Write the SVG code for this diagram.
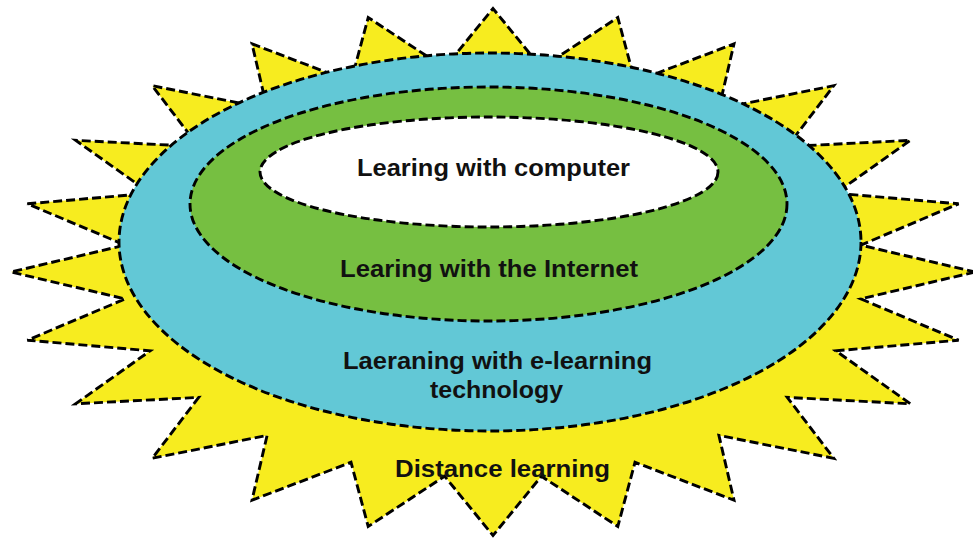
<svg xmlns="http://www.w3.org/2000/svg" width="973" height="538" viewBox="0 0 973 538">
<style>
.shape{stroke:#000;stroke-width:2.9;stroke-dasharray:9 4;stroke-linejoin:miter}
.lbl{font-family:"Liberation Sans",Arial,sans-serif;font-weight:bold;font-size:23px;fill:#111;text-anchor:middle}
</style>
<rect width="973" height="538" fill="#fff"/>
<g id="distance-learning">
<polygon class="shape" fill="#f7ec1f" points="975,272 860.8,298.9 958.6,340.2 835.8,350.8 910.4,403.8 787.3,397.4 833.8,458.3 718.9,435.4 734,500.2 635,462.3 617.8,526.5 541.4,476.2 493,535.5 444.6,476.2 368.2,526.5 351,462.3 252,500.2 267.1,435.4 152.2,458.3 198.7,397.4 75.6,403.8 150.2,350.8 27.4,340.2 125.2,298.9 11,272 125.2,245.1 27.4,203.8 150.2,193.2 75.6,140.3 198.7,146.6 152.2,85.7 267.1,108.6 252,43.8 351,81.7 368.2,17.5 444.6,67.8 493,8.5 541.4,67.8 617.8,17.5 635,81.7 734,43.8 718.9,108.6 833.8,85.7 787.3,146.6 910.4,140.3 835.8,193.2 958.6,203.8 860.8,245.1"/>
</g>
<g id="elearning-technology">
<ellipse class="shape" fill="#62c8d6" cx="490" cy="242" rx="371" ry="189"/>
</g>
<g id="internet">
<ellipse class="shape" fill="#76bf41" cx="488.5" cy="204" rx="298.5" ry="117"/>
</g>
<g id="computer">
<ellipse class="shape" fill="#fff" cx="489" cy="172" rx="229" ry="55"/>
</g>
<g id="labels">
<text class="lbl" x="493.5" y="176" textLength="273" lengthAdjust="spacingAndGlyphs">Learing with computer</text>
<text class="lbl" x="489" y="277" textLength="298" lengthAdjust="spacingAndGlyphs">Learing with the Internet</text>
<text class="lbl" x="497.5" y="369" textLength="309" lengthAdjust="spacingAndGlyphs">Laeraning with e-learning</text>
<text class="lbl" x="496.5" y="398" textLength="133" lengthAdjust="spacingAndGlyphs">technology</text>
<text class="lbl" x="502.5" y="477" textLength="215" lengthAdjust="spacingAndGlyphs">Distance learning</text>
</g>
</svg>
